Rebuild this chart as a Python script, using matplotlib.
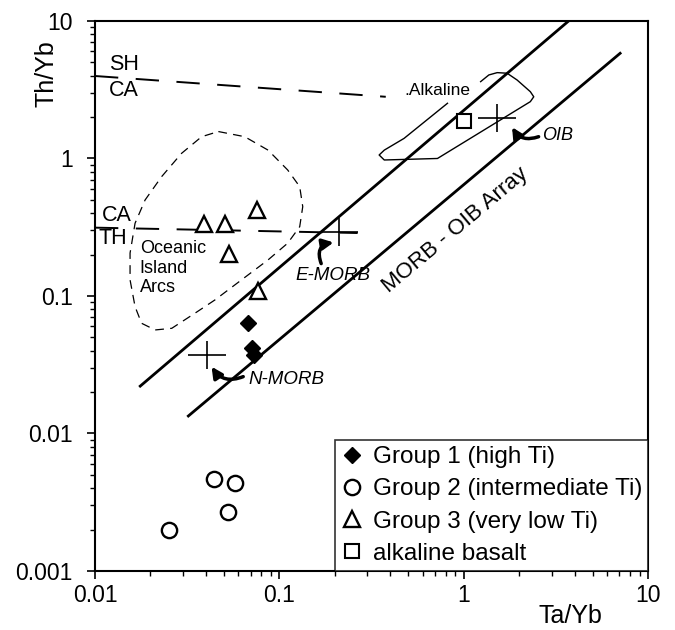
import matplotlib
matplotlib.use('Agg')
import matplotlib.pyplot as plt
from matplotlib.path import Path

plt.rcParams['font.family'] = ['Liberation Sans', 'DejaVu Sans']

# sample data (Ta/Yb, Th/Yb)
g1_x = [0.0678, 0.0707, 0.0733]
g1_y = [0.064, 0.0419, 0.0372]
g2_x = [0.044, 0.0578, 0.0524, 0.0252]
g2_y = [0.00467, 0.00439, 0.0027, 0.00199]
g3_x = [0.0392, 0.0506, 0.076, 0.0531, 0.0763]
g3_y = [0.334, 0.334, 0.422, 0.202, 0.109]
alk_x = [1.01]
alk_y = [1.87]

# reference compositions
ref_names = ['N-MORB', 'E-MORB', 'OIB']
ref_x = [0.0407, 0.212, 1.52]
ref_y = [0.0372, 0.29, 1.96]

# MORB-OIB array boundaries
upper_x = [0.0176, 3.71]
upper_y = [0.0221, 10.0]
lower_x = [0.0321, 7.06]
lower_y = [0.0134, 5.82]

# dashed boundaries
shca_x = [0.01, 0.378]
shca_y = [3.98, 2.81]
cath_x = [0.01, 0.266]
cath_y = [0.314, 0.287]

# Oceanic Island Arcs field
arc_x = [0.0467, 0.0649, 0.0869, 0.111, 0.129, 0.134, 0.129, 0.111, 0.0869, 0.0624,
         0.0447, 0.0348, 0.0261, 0.0212, 0.0179, 0.0165, 0.0155, 0.0155, 0.0165, 0.0187,
         0.0230, 0.0295, 0.0379, 0.0467]
arc_y = [1.57, 1.44, 1.15, 0.825, 0.624, 0.446, 0.319, 0.242, 0.183, 0.131,
         0.0935, 0.0748, 0.0582, 0.0566, 0.0633, 0.0836, 0.131, 0.205, 0.338, 0.499,
         0.738, 1.09, 1.44, 1.57]

# Alkaline field (open where the label sits)
alkf_x = [1.236, 1.37, 1.52, 1.72, 1.95, 2.30, 2.40, 2.30, 0.721, 0.371, 0.348, 0.371, 0.475, 0.817]
alkf_y = [3.62, 4.05, 4.21, 4.17, 3.72, 3.06, 2.81, 2.59, 1.0, 0.975, 1.06, 1.15, 1.40, 2.52]

fig = plt.figure(figsize=(6.75, 6.3), dpi=100)
ax = fig.add_axes([0.1407, 0.0937, 0.8193, 0.873])
ax.set_xscale('log')
ax.set_yscale('log')
ax.set_xlim(0.01, 10)
ax.set_ylim(0.001, 10)

ax.plot(upper_x, upper_y, color='black', lw=2)
ax.plot(lower_x, lower_y, color='black', lw=2)
ax.plot(shca_x, shca_y, color='black', lw=1.4, ls=(0, (12, 9)))
ax.plot(cath_x, cath_y, color='black', lw=1.4, ls=(0, (12, 9)))
ax.plot(arc_x, arc_y, color='black', lw=0.9, ls=(0, (7, 5)))
ax.plot(alkf_x, alkf_y, color='black', lw=1.0)

# reference crosses (wider than tall)
cross = Path([(-1.3, 0), (1.3, 0), (0, -1), (0, 1)],
             [Path.MOVETO, Path.LINETO, Path.MOVETO, Path.LINETO])
ax.plot(ref_x, ref_y, ls='none', marker=cross, ms=27, mew=1.2, color='black')

ax.plot(g1_x, g1_y, ls='none', marker='D', ms=8.5, color='black', label='Group 1 (high Ti)')
ax.plot(g2_x, g2_y, ls='none', marker='o', ms=11, mfc='white', mec='black', mew=1.7,
        label='Group 2 (intermediate Ti)')
ax.plot(g3_x, g3_y, ls='none', marker='^', ms=11.5, mfc='white', mec='black', mew=1.7,
        label='Group 3 (very low Ti)')
ax.plot(alk_x, alk_y, ls='none', marker='s', ms=10.5, mfc='white', mec='black', mew=1.5,
        label='alkaline basalt')

# labels
ax.text(0.0119, 4.79, 'SH', fontsize=15.5, va='center', ha='left')
ax.text(0.0119, 3.1, 'CA', fontsize=15.5, va='center', ha='left')
ax.text(0.0109, 0.388, 'CA', fontsize=15.5, va='center', ha='left')
ax.text(0.0105, 0.264, 'TH', fontsize=15.5, va='center', ha='left')
ax.text(0.0175, 0.255, 'Oceanic\nIsland\nArcs', fontsize=13, va='top', ha='left', linespacing=1.2)
ax.text(0.474, 3.1, '.Alkaline', fontsize=12.5, va='center', ha='left')
ax.text(0.906, 0.302, 'MORB - OIB Array', fontsize=16, rotation=40,
        rotation_mode='anchor', ha='center', va='center')

ax.text(0.0679, 0.0245, 'N-MORB', fontsize=13.5, style='italic', va='center', ha='left')
ax.text(0.1945, 0.142, 'E-MORB', fontsize=13.5, style='italic', va='center', ha='center')
ax.text(2.67, 1.47, 'OIB', fontsize=13, style='italic', va='center', ha='left')

arr = dict(arrowstyle='-|>', color='black', lw=2.5, mutation_scale=16, shrinkA=0, shrinkB=0)
ax.annotate('', xy=(0.0429, 0.0306), xytext=(0.0637, 0.0259),
            arrowprops=dict(arr, connectionstyle='arc3,rad=-0.4'))
ax.annotate('', xy=(0.197, 0.245), xytext=(0.1687, 0.172),
            arrowprops=dict(arr, connectionstyle='arc3,rad=-0.6'))
ax.annotate('', xy=(1.83, 1.69), xytext=(2.55, 1.44),
            arrowprops=dict(arr, connectionstyle='arc3,rad=-0.4'))

ax.set_xticks([0.01, 0.1, 1, 10])
ax.set_xticklabels(['0.01', '0.1', '1', '10'])
ax.set_yticks([0.001, 0.01, 0.1, 1, 10])
ax.set_yticklabels(['0.001', '0.01', '0.1', '1', '10'])
ax.tick_params(which='major', direction='out', length=6, width=1.2, labelsize=16.5)
ax.tick_params(axis='y', which='major', pad=10)
ax.tick_params(which='minor', direction='out', length=3.5, width=1)
for s in ax.spines.values():
    s.set_linewidth(1.5)

ax.set_xlabel('Ta/Yb', fontsize=18)
ax.set_ylabel('Th/Yb', fontsize=18)
ax.xaxis.set_label_coords(0.859, -0.06)
ax.yaxis.set_label_coords(-0.066, 0.905)

leg = ax.legend(loc='lower right', fontsize=17.5, frameon=True, fancybox=False,
                borderaxespad=0, handletextpad=0.4, handlelength=0.9, borderpad=0.25,
                labelspacing=0.42)
leg.get_frame().set_edgecolor('black')
leg.get_frame().set_linewidth(1.2)

fig.savefig('out.png', dpi=100)
